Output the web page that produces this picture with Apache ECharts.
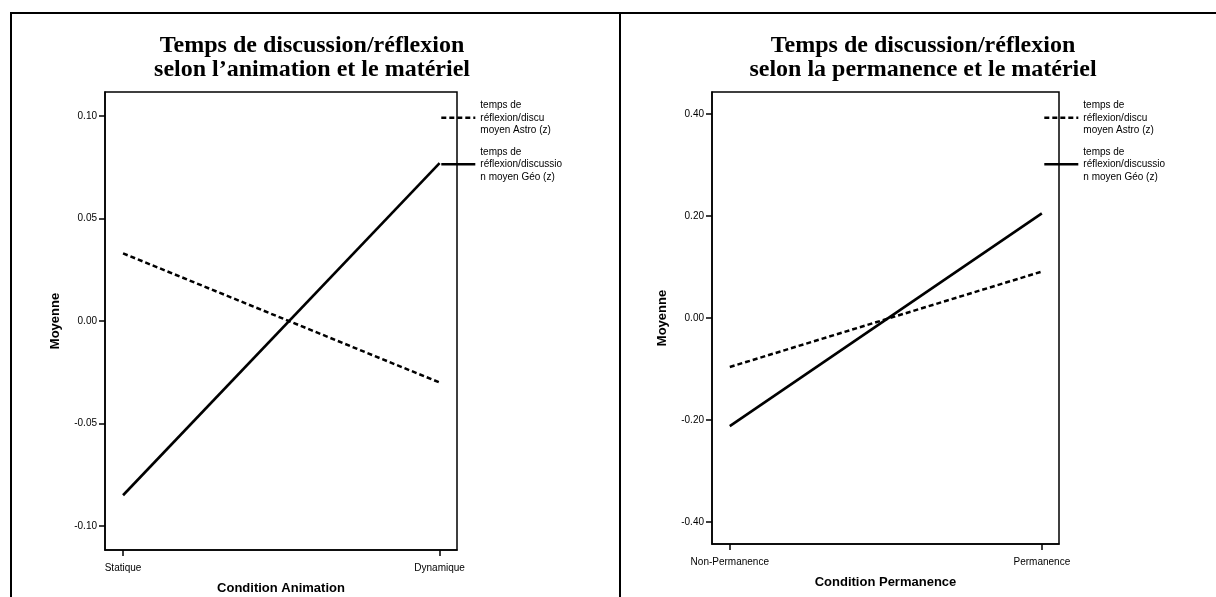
<!DOCTYPE html>
<html>
<head>
<meta charset="utf-8">
<script src="https://cdn.jsdelivr.net/npm/echarts@6/dist/echarts.min.js"></script>
<style>
  html, body { margin: 0; padding: 0; background: #fff; }
  #chart { width: 1216px; height: 597px; }
</style>
</head>
<body>
<div id="chart"></div>
<script>
// data
const seriesNames = ['temps de\nréflexion/discu\nmoyen Astro (z)', 'temps de\nréflexion/discussio\nn moyen Géo (z)'];
const animCategories = ['Statique', 'Dynamique'];
const animAstro = [0.033, -0.030];
const animGeo = [-0.085, 0.077];
const animTicks = [-0.10, -0.05, 0.00, 0.05, 0.10];
const permCategories = ['Non-Permanence', 'Permanence'];
const permAstro = [-0.096, 0.091];
const permGeo = [-0.212, 0.205];
const permTicks = [-0.40, -0.20, 0.00, 0.20, 0.40];

const chart = echarts.init(document.getElementById('chart'));
const sans = 'Liberation Sans, Arial, sans-serif';
const serif = 'Liberation Serif, Times New Roman, serif';

const xAxisFor = (gridIndex, cats, name) => ({
    type: 'value',
    gridIndex,
    min: -0.057,
    max: 1.055,
    name,
    nameLocation: 'middle',
    nameGap: 32,
    nameTextStyle: { fontFamily: sans, fontWeight: 'bold', fontSize: 13, color: '#000' },
    axisLine: { show: true, onZero: false, lineStyle: { color: '#000', width: 1.5 } },
    axisTick: { show: true, length: 6, customValues: [0, 1], lineStyle: { color: '#000', width: 1.5 } },
    axisLabel: {
        customValues: [0, 1],
        formatter: (v) => cats[Math.round(v)],
        fontFamily: sans, fontSize: 10, color: '#000', margin: 13
    },
    splitLine: { show: false }
});

const yAxisFor = (gridIndex, ticks, lim) => ({
    type: 'value',
    gridIndex,
    min: -lim,
    max: lim,
    name: 'Moyenne',
    nameLocation: 'middle',
    nameRotate: 90,
    nameGap: 43,
    nameTextStyle: { fontFamily: sans, fontWeight: 'bold', fontSize: 13, color: '#000' },
    axisLine: { show: true, onZero: false, lineStyle: { color: '#000', width: 1.5 } },
    axisTick: { show: true, length: 6, customValues: ticks, lineStyle: { color: '#000', width: 1.5 } },
    axisLabel: {
        customValues: ticks,
        formatter: (v) => v.toFixed(2),
        fontFamily: sans, fontSize: 10, color: '#000', margin: 8
    },
    splitLine: { show: false }
});

const lineSeries = (name, idx, vals, dashed) => ({
    name,
    type: 'line',
    xAxisIndex: idx,
    yAxisIndex: idx,
    symbol: 'none',
    data: vals.map((v, i) => [i, v]),
    lineStyle: { color: '#000', width: dashed ? 2.5 : 2.6, type: dashed ? [5, 3] : 'solid' },
    itemStyle: { color: '#000' },
    animation: false
});

const legendFor = (left, top) => ({
    orient: 'vertical',
    left,
    top,
    padding: 0,
    itemWidth: 34,
    itemHeight: 10,
    itemGap: 9,
    selectedMode: false,
    data: seriesNames,
    itemStyle: { opacity: 0 },
    lineStyle: { width: 2.6 },
    textStyle: { fontFamily: sans, fontSize: 10, color: '#000', lineHeight: 12.5 }
});

const titleStyle = { fontFamily: serif, fontWeight: 'bold', fontSize: 24, lineHeight: 24, color: '#000' };

const option = {
    backgroundColor: '#fff',
    animation: false,
    title: [
        {
            text: 'Temps de discussion/réflexion\nselon l’animation et le matériel',
            left: 307, top: 29, textAlign: 'center',
            textStyle: titleStyle
        },
        {
            text: 'Temps de discussion/réflexion\nselon la permanence et le matériel',
            left: 918, top: 29, textAlign: 'center',
            textStyle: titleStyle
        }
    ],
    grid: [
        { left: 105, top: 92, width: 352, height: 458, outerBoundsMode: 'none', show: true, borderColor: '#000', borderWidth: 1.5, backgroundColor: 'transparent' },
        { left: 712, top: 92, width: 347, height: 452, outerBoundsMode: 'none', show: true, borderColor: '#000', borderWidth: 1.5, backgroundColor: 'transparent' }
    ],
    xAxis: [
        xAxisFor(0, animCategories, 'Condition Animation'),
        xAxisFor(1, permCategories, 'Condition Permanence')
    ],
    yAxis: [
        yAxisFor(0, animTicks, 0.1117),
        yAxisFor(1, permTicks, 0.443)
    ],
    legend: [legendFor(440, 99), legendFor(1043, 99)],
    series: [
        lineSeries(seriesNames[0], 0, animAstro, true),
        lineSeries(seriesNames[1], 0, animGeo, false),
        lineSeries(seriesNames[0], 1, permAstro, true),
        lineSeries(seriesNames[1], 1, permGeo, false)
    ],
    graphic: [
        { type: 'line', shape: { x1: 10, y1: 13, x2: 1216, y2: 13 }, style: { stroke: '#000', lineWidth: 2 } },
        { type: 'line', shape: { x1: 11, y1: 13, x2: 11, y2: 597 }, style: { stroke: '#000', lineWidth: 2 } },
        { type: 'line', shape: { x1: 620, y1: 13, x2: 620, y2: 597 }, style: { stroke: '#000', lineWidth: 2 } }
    ]
};

chart.setOption(option);
</script>
</body>
</html>
